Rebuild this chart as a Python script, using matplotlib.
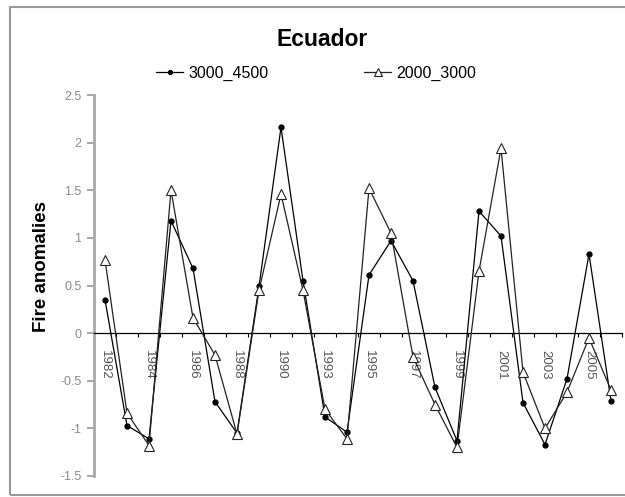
import matplotlib.pyplot as plt
from matplotlib.patches import Rectangle

# one year (1991) is missing in the source series
years = list(range(1982, 1991)) + list(range(1992, 2007))
high_band = [0.35, -0.97, -1.11, 1.18, 0.68, -0.72, -1.05, 0.49, 2.16, 0.55, -0.88, -1.04,
             0.61, 0.97, 0.55, -0.57, -1.13, 1.28, 1.02, -0.73, -1.17, -0.48, 0.83, -0.71]
low_band = [0.77, -0.84, -1.18, 1.50, 0.16, -0.23, -1.06, 0.45, 1.46, 0.45, -0.80, -1.11,
            1.52, 1.05, -0.25, -0.75, -1.20, 0.65, 1.94, -0.41, -1.00, -0.62, -0.05, -0.60]
y_ticks = [-1.5, -1, -0.5, 0, 0.5, 1, 1.5, 2, 2.5]
y_labels = ['-1.5', '-1', '-0.5', '0', '0.5', '1', '1.5', '2', '2.5']

plt.rcParams['font.family'] = ['Liberation Sans', 'DejaVu Sans']

fig = plt.figure(figsize=(6.25, 4.97), dpi=100)
ax = fig.add_axes([94 / 625, 1 - 476 / 497, 528 / 625, 381 / 497])

x = list(range(len(years)))
ax.plot(x, high_band, color='black', lw=0.9, marker='o', ms=3.5,
        mfc='black', mec='black', label='3000_4500', zorder=3)
ax.plot(x, low_band, color='#222222', lw=0.9, marker='^', ms=6.5,
        mfc='white', mec='#222222', mew=0.8, label='2000_3000', zorder=3)

ax.set_xlim(-0.5, len(years) - 0.5)
ax.set_ylim(-1.5, 2.5)

# spines: gray value axis, black category axis through zero
for s in ['top', 'right']:
    ax.spines[s].set_visible(False)
ax.spines['left'].set_color('#a8a8a8')
ax.spines['left'].set_linewidth(2)
ax.spines['bottom'].set_position(('data', 0))
ax.spines['bottom'].set_color('black')
ax.spines['bottom'].set_linewidth(0.9)

ax.set_yticks(y_ticks)
ax.set_yticklabels(y_labels)
ax.tick_params(axis='y', colors='#999999', labelcolor='#8a8a8a', labelsize=9,
               length=5, width=1.2, direction='out', pad=4)

ax.set_xticks(x[::2])
ax.set_xticklabels([str(y) for y in years[::2]], rotation=-90, va='top', ha='center')
ax.set_xticks([i + 0.5 for i in x], minor=True)
ax.tick_params(axis='x', which='major', length=0, labelsize=9.5, labelcolor='#555555', pad=12)
ax.tick_params(axis='x', which='minor', length=3, width=0.8, color='black', direction='out')

fig.text(322 / 625, 1 - 40 / 497, 'Ecuador', fontsize=16.5, fontweight='bold',
         ha='center', va='center')
fig.text(42 / 625, 1 - 267 / 497, 'Fire anomalies', fontsize=13.5, fontweight='bold',
         rotation=90, ha='center', va='center')

fig.legend(loc='center', bbox_to_anchor=(316 / 625, 1 - 73 / 497), ncol=2, frameon=False,
           fontsize=11.5, handlelength=1.7, handletextpad=0.3, columnspacing=6.0,
           markerscale=0.8)

fig.patches.append(Rectangle((10 / 625, 1 - 495 / 497), 1.0, 488 / 497,
                             transform=fig.transFigure, fill=False,
                             edgecolor='#9a9a9a', lw=1.5))

fig.savefig('out.png', dpi=100)
